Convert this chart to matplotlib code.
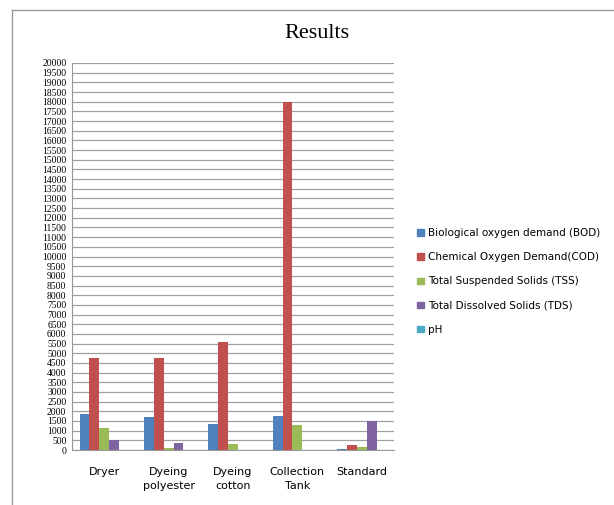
import matplotlib
matplotlib.use("Agg")
import matplotlib.pyplot as plt
import matplotlib.patches as mpatches
from matplotlib.lines import Line2D
import numpy as np

categories = ["Dryer", "Dyeing\npolyester", "Dyeing\ncotton", "Collection\nTank", "Standard"]
series_names = ["Biological oxygen demand (BOD)", "Chemical Oxygen Demand(COD)",
                "Total Suspended Solids (TSS)", "Total Dissolved Solids (TDS)", "pH"]
bod = [1850, 1700, 1330, 1740, 60]
cod = [4750, 4750, 5560, 18000, 250]
tss = [1150, 120, 300, 1270, 170]
tds = [520, 350, 0, 0, 1480]
ph = [7, 7, 7, 7, 7]
colors = ["#4f81bd", "#c0504d", "#9bbb59", "#8064a2", "#4bacc6"]

fig = plt.figure(figsize=(6.14, 5.05), dpi=100)
ax = fig.add_axes([72/614, 55/505, 322/614, 387/505])

x = np.arange(len(categories))
w = 0.153
for i, vals in enumerate([bod, cod, tss, tds, ph]):
    ax.bar(x + (i - 2) * w, vals, width=w, color=colors[i], label=series_names[i], zorder=3)

ax.set_xlim(-0.5, 4.5)
ax.set_ylim(0, 20000)
ax.set_yticks(np.arange(0, 20001, 500))
ax.set_yticklabels([str(v) for v in range(0, 20001, 500)], fontsize=6.9,
                   family="Liberation Serif")
ax.yaxis.grid(True, color="#a0a0a0", linewidth=0.9, zorder=0)
ax.tick_params(axis="y", length=0, pad=4)
ax.tick_params(axis="x", length=0, pad=12)
ax.set_xticks(x)
ax.set_xticklabels(categories, fontsize=8, family="DejaVu Sans", linespacing=1.6)
for s in ["top", "right"]:
    ax.spines[s].set_visible(False)
ax.spines["left"].set_color("#999999")
ax.spines["bottom"].set_color("#999999")

fig.text(317/614, 1 - 33/505, "Results", ha="center", va="center", fontsize=16,
         family="Liberation Serif")

handles = [mpatches.Patch(color=c) for c in colors]
fig.legend(handles, series_names, loc="upper left", bbox_to_anchor=(408/614, 1 - 219/505),
           frameon=False, fontsize=7.5, handlelength=0.6, handleheight=0.6,
           handletextpad=0.4, labelspacing=1.35)

# outer frame lines
fig.add_artist(Line2D([12/614, 12/614], [0, 1 - 10/505], color="#999999", lw=1))
fig.add_artist(Line2D([12/614, 1], [1 - 10/505, 1 - 10/505], color="#999999", lw=1))

fig.savefig("out.png", dpi=100)
